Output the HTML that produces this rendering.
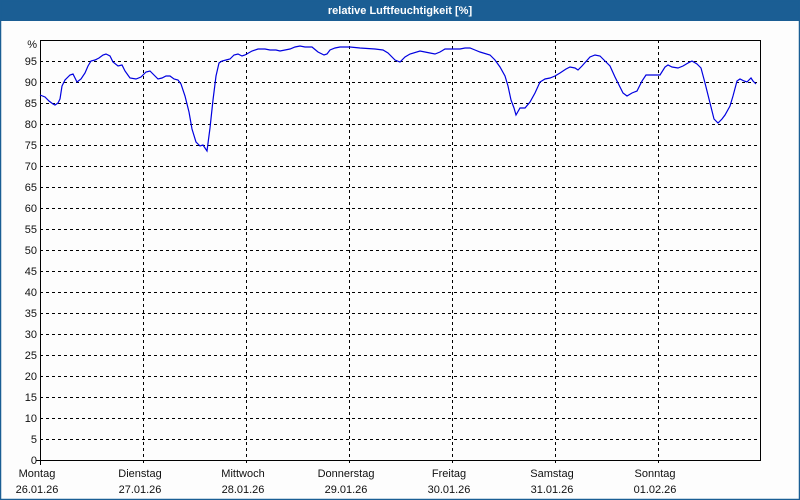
<!DOCTYPE html>
<html><head><meta charset="utf-8"><style>
html,body{margin:0;padding:0;width:800px;height:500px;overflow:hidden;background:#fdfdfd;font-family:"Liberation Sans",sans-serif}
</style></head><body>
<svg width="800" height="500" xmlns="http://www.w3.org/2000/svg" font-family="Liberation Sans, sans-serif">
<rect x="0" y="0" width="800" height="500" fill="#fdfdfd"/>
<rect x="0" y="0" width="800" height="21" fill="#1b5e94"/>
<rect x="0.5" y="0.5" width="799" height="499" fill="none" stroke="#1b5e94" stroke-width="1.5"/>
<text x="400" y="14" fill="#fff" font-size="11" font-weight="bold" text-anchor="middle">relative Luftfeuchtigkeit [%]</text>
<g stroke="#000" stroke-width="1" stroke-dasharray="3,3" fill="none">
<path d="M40 61.5H760M40 82.5H760M40 103.5H760M40 124.5H760M40 145.5H760M40 166.5H760M40 187.5H760M40 208.5H760M40 229.5H760M40 250.5H760M40 271.5H760M40 292.5H760M40 313.5H760M40 334.5H760M40 355.5H760M40 376.5H760M40 397.5H760M40 418.5H760M40 439.5H760"/>
<path d="M143.5 40V465M246.5 40V465M349.5 40V465M452.5 40V465M555.5 40V465M658.5 40V465"/>
</g>
<path d="M40.5 465V40.5H760.5V460.5H36" fill="none" stroke="#000" stroke-width="1"/>
<g font-size="11" fill="#111" text-anchor="end">
<text x="37" y="48">%</text><text x="37" y="65">95</text><text x="37" y="86">90</text><text x="37" y="107">85</text><text x="37" y="128">80</text><text x="37" y="149">75</text><text x="37" y="170">70</text><text x="37" y="191">65</text><text x="37" y="212">60</text><text x="37" y="233">55</text><text x="37" y="254">50</text><text x="37" y="275">45</text><text x="37" y="296">40</text><text x="37" y="317">35</text><text x="37" y="338">30</text><text x="37" y="359">25</text><text x="37" y="380">20</text><text x="37" y="401">15</text><text x="37" y="422">10</text><text x="37" y="443">5</text><text x="37" y="464">0</text>
</g>
<g font-size="11" fill="#111" text-anchor="middle">
<text x="37" y="477">Montag</text><text x="37" y="493">26.01.26</text>
<text x="140" y="477">Dienstag</text><text x="140" y="493">27.01.26</text>
<text x="243" y="477">Mittwoch</text><text x="243" y="493">28.01.26</text>
<text x="346" y="477">Donnerstag</text><text x="346" y="493">29.01.26</text>
<text x="449" y="477">Freitag</text><text x="449" y="493">30.01.26</text>
<text x="552" y="477">Samstag</text><text x="552" y="493">31.01.26</text>
<text x="655" y="477">Sonntag</text><text x="655" y="493">01.02.26</text>
</g>
<polyline fill="none" stroke="#0000e0" stroke-width="1.2" points="40,95 45,97 49,101 53,104 55,105 58,103 60,99 62,86 65,80 70,75 73,74 75,78 77,82 81,79 85,73 88,66 91,61 95,60 99,58 103,55 106,54 110,56 113,62 118,66 122,65 125,71 130,78 136,79 141,77 146,72 150,71 154,75 158,79 162,78 166,76 170,76 174,79 178,80 181,84 185,96 189,112 192,129 196,142 200,146 203,145 205,148 207,151 210,128 213,100 216,76 219,63 222,61 226,60 230,59 234,55 238,54 242,56 245,55 252,51 258,49 265,49 270,50 276,50 280,51 285,50 290,49 295,47 300,46 305,47 312,47 318,52 324,55 327,54 330,50 335,48 340,47 350,47 360,48 375,49 383,50 388,53 395,60 400,62 405,57 410,54 420,51 430,53 435,54 440,52 445,49 450,49 460,49 465,48 470,48 475,50 480,52 490,55 495,60 500,67 505,76 508,86 511,100 514,108 516,115 520,108 525,108 530,102 535,93 540,82 545,79 550,78 555,76 560,73 566,69 570,67 575,68 578,70 582,66 590,57 595,55 600,56 605,61 610,66 615,77 620,87 623,93 627,96 632,93 637,91 642,81 646,75 650,75 655,75 660,75 665,67 668,65 672,67 678,68 683,66 688,63 692,61 697,64 701,68 705,83 710,103 714,119 718,123 722,119 725,115 730,106 733,96 737,81 740,79 744,81 747,82 751,78 753,81 756,84"/>
</svg>
</body></html>
